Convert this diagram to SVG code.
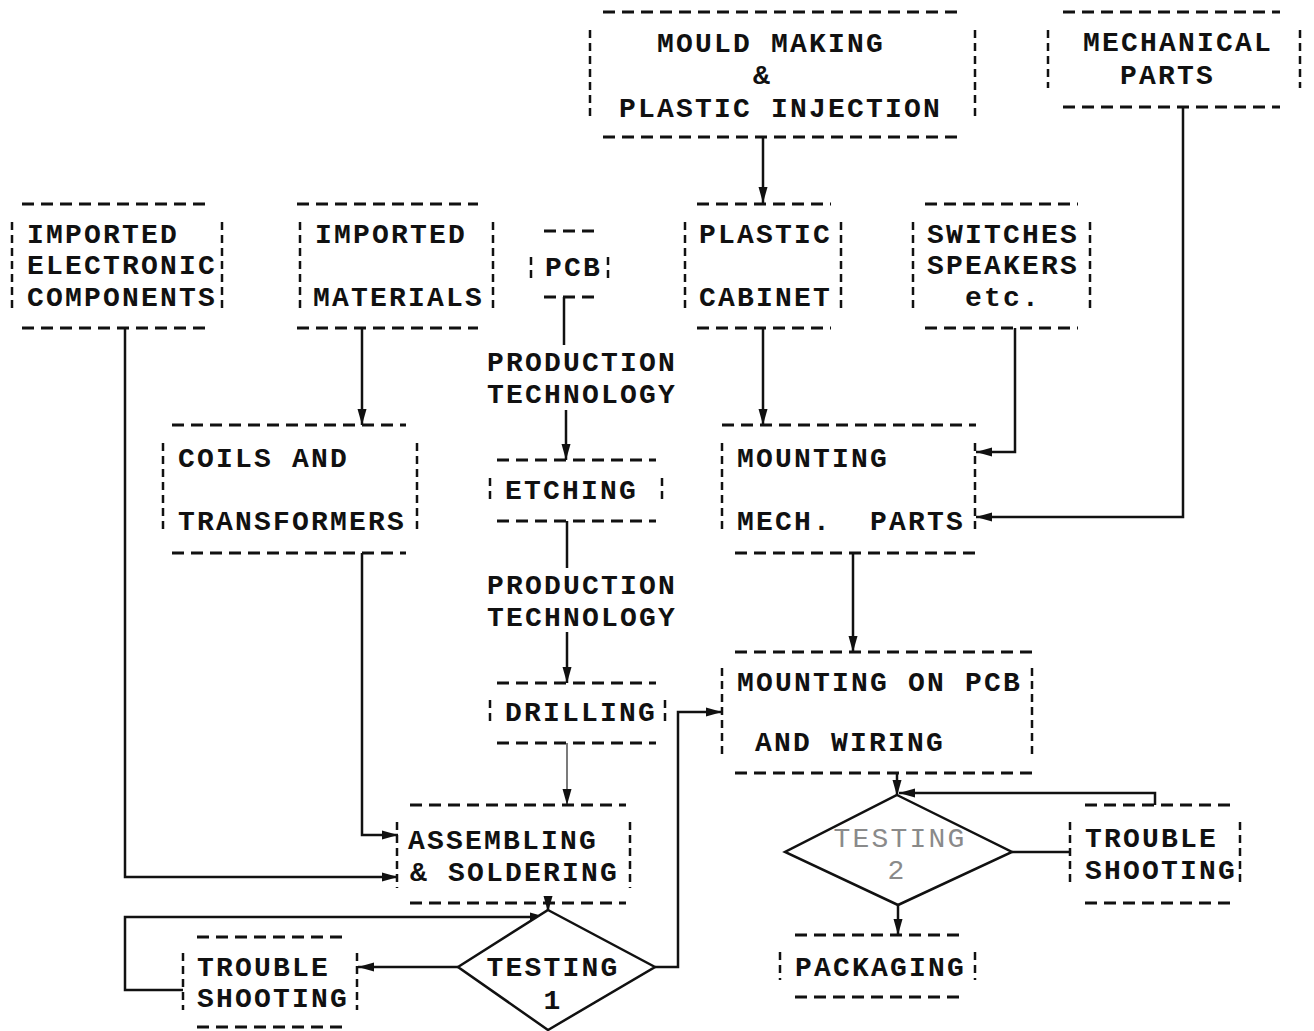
<svg xmlns="http://www.w3.org/2000/svg" width="1314" height="1031" viewBox="0 0 1314 1031">
  <style>
    .hd { stroke:#111; stroke-width:3; stroke-dasharray:12 7; fill:none; }
    .vd { stroke:#111; stroke-width:2.5; stroke-dasharray:8 5; fill:none; }
    .t  { font-family:"Liberation Mono", "DejaVu Sans Mono", monospace; font-weight:bold; font-size:28px; letter-spacing:2.2px; fill:#111; }
    .c  { text-anchor:middle; }
    .faint { fill:#8a8a8a; font-weight:normal; }
    .ln { stroke:#111; stroke-width:2.5; fill:none; }
    .thin { stroke:#333; stroke-width:1.3; fill:none; }
    .dia { stroke:#111; stroke-width:2.5; fill:#fff; }
  </style>
  <defs>
    <marker id="arr" markerUnits="userSpaceOnUse" markerWidth="17" markerHeight="12" refX="16" refY="6" orient="auto">
      <path d="M0,1.5 L16,6 L0,10.5 z" fill="#111"/>
    </marker>
  </defs>
  <rect width="1314" height="1031" fill="#fff"/>

  <!-- connectors -->
  <g id="connectors">
    <path class="ln" d="M763,138 V203" marker-end="url(#arr)"/>
    <path class="ln" d="M1183,107 V517 H976" marker-end="url(#arr)"/>
    <path class="ln" d="M1015,328 V452 H976" marker-end="url(#arr)"/>
    <path class="ln" d="M763,328 V425" marker-end="url(#arr)"/>
    <path class="ln" d="M362,328 V425" marker-end="url(#arr)"/>
    <path class="ln" d="M125,328 V877 H398" marker-end="url(#arr)"/>
    <path class="ln" d="M564,297 V345"/>
    <path class="ln" d="M566,410 V460" marker-end="url(#arr)"/>
    <path class="ln" d="M567,521 V568"/>
    <path class="ln" d="M567,632 V683" marker-end="url(#arr)"/>
    <path class="ln" d="M362,553 V835 H398" marker-end="url(#arr)"/>
    <path class="thin" d="M567,743 V805" marker-end="url(#arr)"/>
    <path class="ln" d="M853,553 V652" marker-end="url(#arr)"/>
    <path class="ln" d="M548,903 V912" marker-end="url(#arr)"/>
    <path class="ln" d="M458,967 H358" marker-end="url(#arr)"/>
    <path class="ln" d="M183,990 H125 V917 H546" marker-end="url(#arr)"/>
    <path class="ln" d="M655,967 H678 V712 H722" marker-end="url(#arr)"/>
    <path class="ln" d="M897,773 V796" marker-end="url(#arr)"/>
    <path class="ln" d="M1012,852 H1070"/>
    <path class="ln" d="M1155,805 V793 H899" marker-end="url(#arr)"/>
    <path class="ln" d="M898,905 V935" marker-end="url(#arr)"/>
  </g>

  <!-- edge labels -->
  <g id="labels">
    <text class="t" x="487" y="371">PRODUCTION</text>
    <text class="t" x="487" y="403">TECHNOLOGY</text>
    <text class="t" x="487" y="594">PRODUCTION</text>
    <text class="t" x="487" y="626">TECHNOLOGY</text>
  </g>

  <g id="mould">
    <path class="hd" d="M603,12 H960 M603,137 H960"/>
    <path class="vd" d="M590,30 V120 M975,30 V120"/>
    <text class="t" x="657" y="52">MOULD MAKING</text>
    <text class="t" x="753" y="84">&amp;</text>
    <text class="t" x="619" y="117">PLASTIC INJECTION</text>
  </g>

  <g id="mechanical">
    <path class="hd" d="M1063,12 H1280 M1063,107 H1280"/>
    <path class="vd" d="M1048,30 V88 M1300,30 V88"/>
    <text class="t" x="1083" y="51">MECHANICAL</text>
    <text class="t" x="1120" y="84">PARTS</text>
  </g>

  <g id="imported-electronic">
    <path class="hd" d="M22,204 H207 M22,328 H207"/>
    <path class="vd" d="M12,222 V310 M222,222 V310"/>
    <text class="t" x="27" y="243">IMPORTED</text>
    <text class="t" x="27" y="274">ELECTRONIC</text>
    <text class="t" x="27" y="306">COMPONENTS</text>
  </g>

  <g id="imported-materials">
    <path class="hd" d="M297,204 H478 M297,328 H478"/>
    <path class="vd" d="M300,222 V310 M493,222 V310"/>
    <text class="t" x="315" y="243">IMPORTED</text>
    <text class="t" x="313" y="306">MATERIALS</text>
  </g>

  <g id="pcb">
    <path class="hd" d="M544,231 H597 M544,297 H597"/>
    <path class="vd" d="M531,257 V279 M608,257 V279"/>
    <text class="t" x="545" y="276">PCB</text>
  </g>

  <g id="plastic-cabinet">
    <path class="hd" d="M697,204 H831 M697,328 H831"/>
    <path class="vd" d="M685,222 V310 M841,222 V310"/>
    <text class="t" x="699" y="243">PLASTIC</text>
    <text class="t" x="699" y="306">CABINET</text>
  </g>

  <g id="switches">
    <path class="hd" d="M925,204 H1078 M925,328 H1078"/>
    <path class="vd" d="M913,222 V310 M1090,222 V310"/>
    <text class="t" x="927" y="243">SWITCHES</text>
    <text class="t" x="927" y="274">SPEAKERS</text>
    <text class="t" x="965" y="306">etc.</text>
  </g>

  <g id="coils">
    <path class="hd" d="M172,425 H406 M172,553 H406"/>
    <path class="vd" d="M163,443 V533 M417,443 V533"/>
    <text class="t" x="178" y="467">COILS AND</text>
    <text class="t" x="178" y="530">TRANSFORMERS</text>
  </g>

  <g id="etching">
    <path class="hd" d="M497,460 H656 M497,521 H656"/>
    <path class="vd" d="M490,478 V503 M662,478 V503"/>
    <text class="t" x="505" y="499">ETCHING</text>
  </g>

  <g id="mounting-mech">
    <path class="hd" d="M722,425 H976 M735,553 H976"/>
    <path class="vd" d="M722,443 V533 M975,443 V533"/>
    <text class="t" x="737" y="467">MOUNTING</text>
    <text class="t" x="737" y="530" xml:space="preserve">MECH.  PARTS</text>
  </g>

  <g id="drilling">
    <path class="hd" d="M497,683 H656 M497,743 H656"/>
    <path class="vd" d="M490,700 V725 M665,700 V725"/>
    <text class="t" x="505" y="721">DRILLING</text>
  </g>

  <g id="mounting-pcb">
    <path class="hd" d="M735,652 H1036 M735,773 H1036"/>
    <path class="vd" d="M722,668 V755 M1032,668 V755"/>
    <text class="t" x="737" y="691">MOUNTING ON PCB</text>
    <text class="t" x="755" y="751">AND WIRING</text>
  </g>

  <g id="assembling">
    <path class="hd" d="M410,805 H626 M410,903 H626"/>
    <path class="vd" d="M397,822 V888 M630,822 V888"/>
    <text class="t" x="408" y="849">ASSEMBLING</text>
    <text class="t" x="410" y="881">&amp; SOLDERING</text>
  </g>

  <g id="testing-1">
    <polygon class="dia" points="548,910 655,967 548,1030 458,967"/>
    <text class="t c" x="553" y="976">TESTING</text>
    <text class="t c" x="553" y="1009">1</text>
  </g>

  <g id="trouble-1">
    <path class="hd" d="M197,937 H346 M197,1027 H346"/>
    <path class="vd" d="M183,953 V1010 M357,953 V1010"/>
    <text class="t" x="197" y="976">TROUBLE</text>
    <text class="t" x="197" y="1007">SHOOTING</text>
  </g>

  <g id="testing-2">
    <polygon class="dia" points="897,795 1012,852 898,905 785,852"/>
    <text class="t c faint" x="900" y="847">TESTING</text>
    <text class="t c faint" x="897" y="879">2</text>
  </g>

  <g id="trouble-2">
    <path class="hd" d="M1085,805 H1231 M1085,903 H1231"/>
    <path class="vd" d="M1070,822 V885 M1240,822 V885"/>
    <text class="t" x="1085" y="847">TROUBLE</text>
    <text class="t" x="1085" y="879">SHOOTING</text>
  </g>

  <g id="packaging">
    <path class="hd" d="M795,935 H961 M795,997 H961"/>
    <path class="vd" d="M780,952 V980 M975,952 V980"/>
    <text class="t" x="795" y="976">PACKAGING</text>
  </g>
</svg>
